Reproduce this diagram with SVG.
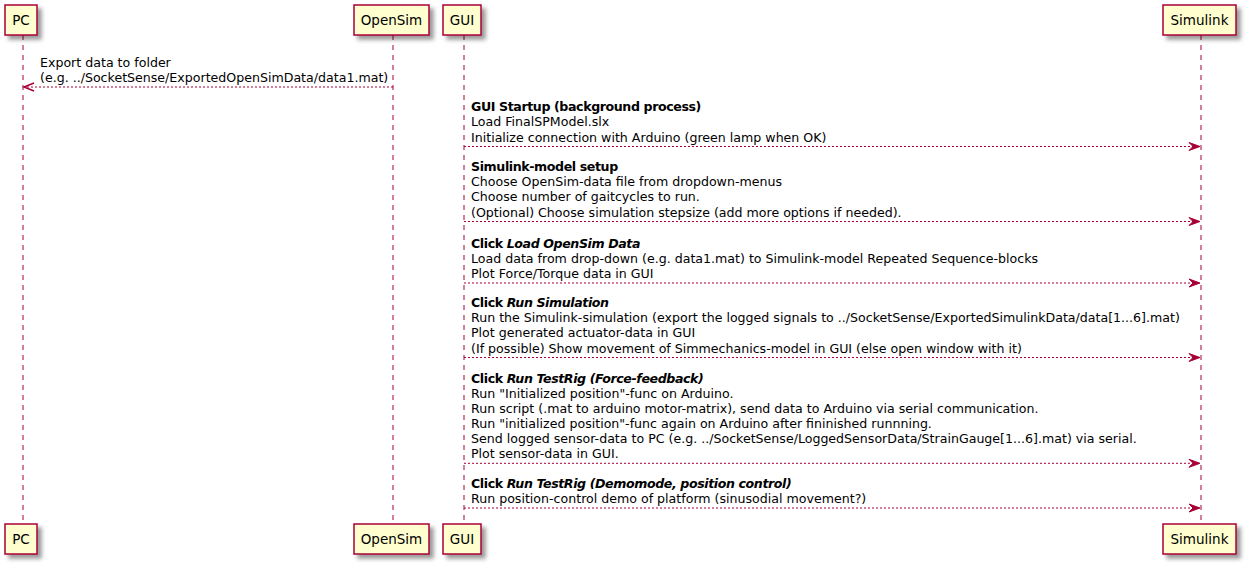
<svg xmlns="http://www.w3.org/2000/svg" width="1249" height="568" viewBox="0 0 1249 568">
<style>
.life{stroke:#A80036;stroke-width:1;stroke-dasharray:5,5;fill:none}
.box{fill:#FEFECE;stroke:#A80036;stroke-width:1.5}
.pname{font-family:"DejaVu Sans",sans-serif;font-size:13.5px;fill:#000000}
.msg{stroke:#A80036;stroke-width:1;stroke-dasharray:2,2;fill:none}
.head{fill:#A80036;stroke:#A80036;stroke-width:1}
.openhead{stroke:#A80036;stroke-width:1.5;fill:none}
.t{font-family:"DejaVu Sans",sans-serif;font-size:12.6px;fill:#000000}
.b{font-weight:bold;letter-spacing:-0.4px}
.i{font-style:italic}
</style>
<defs>
<filter id="sh" x="-20%" y="-20%" width="160%" height="160%">
<feGaussianBlur in="SourceAlpha" stdDeviation="2" result="blur"/>
<feColorMatrix in="blur" type="matrix" values="0 0 0 0 0  0 0 0 0 0  0 0 0 0 0  0 0 0 0.4 0" result="c"/>
<feOffset in="c" dx="4" dy="4" result="o"/>
<feMerge><feMergeNode in="o"/><feMergeNode in="SourceGraphic"/></feMerge>
</filter>
</defs>
<rect width="1249" height="568" fill="#FFFFFF"/>
<g id="lifelines">
<line class="life" x1="23" y1="35" x2="23" y2="524"/>
<line class="life" x1="393" y1="35" x2="393" y2="524"/>
<line class="life" x1="464" y1="35" x2="464" y2="524"/>
<line class="life" x1="1201" y1="35" x2="1201" y2="524"/>
</g>
<g id="PC">
<rect class="box" x="5" y="5" width="32" height="30" filter="url(#sh)"/>
<text class="pname" x="21" y="25" text-anchor="middle">PC</text>
<rect class="box" x="5" y="524" width="32" height="30" filter="url(#sh)"/>
<text class="pname" x="21" y="544" text-anchor="middle">PC</text>
</g>
<g id="OpenSim">
<rect class="box" x="354" y="5" width="75" height="30" filter="url(#sh)"/>
<text class="pname" x="391.5" y="25" text-anchor="middle">OpenSim</text>
<rect class="box" x="354" y="524" width="75" height="30" filter="url(#sh)"/>
<text class="pname" x="391.5" y="544" text-anchor="middle">OpenSim</text>
</g>
<g id="GUI">
<rect class="box" x="443" y="5" width="38" height="30" filter="url(#sh)"/>
<text class="pname" x="462" y="25" text-anchor="middle">GUI</text>
<rect class="box" x="443" y="524" width="38" height="30" filter="url(#sh)"/>
<text class="pname" x="462" y="544" text-anchor="middle">GUI</text>
</g>
<g id="Simulink">
<rect class="box" x="1163" y="5" width="73" height="30" filter="url(#sh)"/>
<text class="pname" x="1199.5" y="25" text-anchor="middle">Simulink</text>
<rect class="box" x="1163" y="524" width="73" height="30" filter="url(#sh)"/>
<text class="pname" x="1199.5" y="544" text-anchor="middle">Simulink</text>
</g>
<g id="connectors">
<line class="msg" x1="393" y1="87" x2="24" y2="87"/>
<polyline class="openhead" points="34,83 24,87 34,91"/>
<line class="msg" x1="464" y1="146.5" x2="1199" y2="146.5"/>
<polygon class="head" points="1189,142.5 1200,146.5 1189,150.5 1193,146.5"/>
<line class="msg" x1="464" y1="221.5" x2="1199" y2="221.5"/>
<polygon class="head" points="1189,217.5 1200,221.5 1189,225.5 1193,221.5"/>
<line class="msg" x1="464" y1="283" x2="1199" y2="283"/>
<polygon class="head" points="1189,279 1200,283 1189,287 1193,283"/>
<line class="msg" x1="464" y1="357.5" x2="1199" y2="357.5"/>
<polygon class="head" points="1189,353.5 1200,357.5 1189,361.5 1193,357.5"/>
<line class="msg" x1="464" y1="463.3" x2="1199" y2="463.3"/>
<polygon class="head" points="1189,459.3 1200,463.3 1189,467.3 1193,463.3"/>
<line class="msg" x1="464" y1="508" x2="1199" y2="508"/>
<polygon class="head" points="1189,504 1200,508 1189,512 1193,508"/>
</g>
<g id="labels">
<text class="t" x="40" y="66.5">Export data to folder</text>
<text class="t" x="40" y="81.6">(e.g. ../SocketSense/ExportedOpenSimData/data1.mat)</text>

<text class="t b" x="471" y="111.3">GUI Startup (background process)</text>
<text class="t" x="471" y="126.4">Load FinalSPModel.slx</text>
<text class="t" x="471" y="141.5">Initialize connection with Arduino (green lamp when OK)</text>

<text class="t b" x="471" y="171.2">Simulink-model setup</text>
<text class="t" x="471" y="186.3">Choose OpenSim-data file from dropdown-menus</text>
<text class="t" x="471" y="201.4">Choose number of gaitcycles to run.</text>
<text class="t" x="471" y="216.5">(Optional) Choose simulation stepsize (add more options if needed).</text>

<text class="t b" x="471" y="247.8">Click <tspan class="i">Load OpenSim Data</tspan></text>
<text class="t" x="471" y="262.9">Load data from drop-down (e.g. data1.mat) to Simulink-model Repeated Sequence-blocks</text>
<text class="t" x="471" y="278">Plot Force/Torque data in GUI</text>

<text class="t b" x="471" y="307.2">Click <tspan class="i">Run Simulation</tspan></text>
<text class="t" x="471" y="322.3">Run the Simulink-simulation (export the logged signals to ../SocketSense/ExportedSimulinkData/data[1...6].mat)</text>
<text class="t" x="471" y="337.4">Plot generated actuator-data in GUI</text>
<text class="t" x="471" y="352.5">(If possible) Show movement of Simmechanics-model in GUI (else open window with it)</text>

<text class="t b" x="471" y="382.8">Click <tspan class="i">Run TestRig (Force-feedback)</tspan></text>
<text class="t" x="471" y="397.9">Run "Initialized position"-func on Arduino.</text>
<text class="t" x="471" y="413">Run script (.mat to arduino motor-matrix), send data to Arduino via serial communication.</text>
<text class="t" x="471" y="428.1">Run "initialized position"-func again on Arduino after fininished runnning.</text>
<text class="t" x="471" y="443.2">Send logged sensor-data to PC (e.g. ../SocketSense/LoggedSensorData/StrainGauge[1...6].mat) via serial.</text>
<text class="t" x="471" y="458.3">Plot sensor-data in GUI.</text>

<text class="t b" x="471" y="487.9">Click <tspan class="i">Run TestRig (Demomode, position control)</tspan></text>
<text class="t" x="471" y="503">Run position-control demo of platform (sinusodial movement?)</text>
</g>
</svg>
